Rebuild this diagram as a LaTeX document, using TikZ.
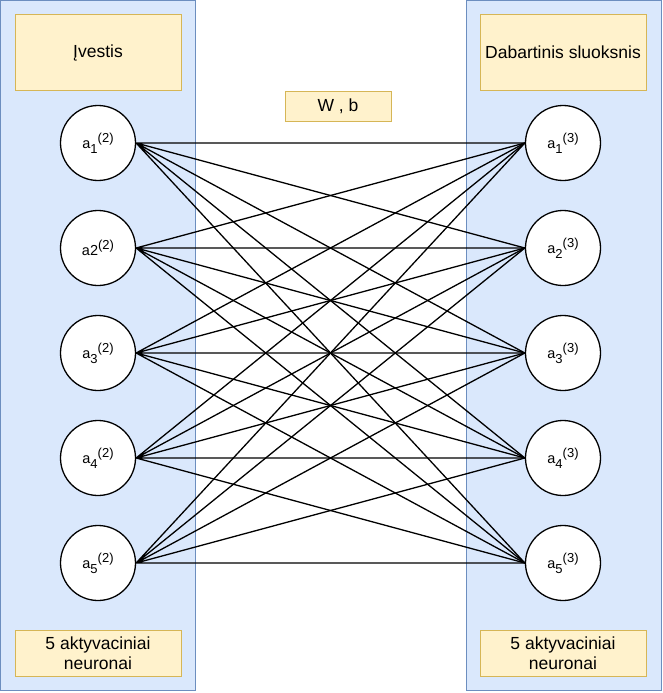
\documentclass[tikz,border=0pt]{standalone}
\usepackage{fontspec}
\setmainfont{Liberation Sans}
\definecolor{panelfill}{HTML}{DAE8FC}
\definecolor{panelline}{HTML}{6C8EBF}
\definecolor{notefill}{HTML}{FFF2CC}
\definecolor{noteline}{HTML}{D6B656}
\newcommand{\actsub}[1]{\raisebox{-4.5pt}{\fontsize{13}{14}\selectfont #1}}
\newcommand{\actsup}[1]{\raisebox{6.5pt}{\fontsize{13}{14}\selectfont (#1)}}
\tikzset{
  panel/.style={draw=panelline, fill=panelfill, line width=1pt},
  notebox/.style={draw=noteline, fill=notefill, line width=1pt, inner sep=0pt, align=center, font=\fontsize{17.5}{20}\selectfont},
  neuron/.style={draw, fill=white, circle, minimum size=75pt, inner sep=0pt, line width=1.3pt, font=\fontsize{14.5}{16}\selectfont},
  wire/.style={line width=1.3pt}
}
\begin{document}
\begin{tikzpicture}[x=1pt, y=-1pt]
			%%%%% START %%%%%
			\useasboundingbox (0, 0) rectangle (663, 693);
			
			\draw[panel] (0.5, 0.5) rectangle (195, 690);
			\draw[panel] (466, 0.5) rectangle (661, 690);
			
			\node[notebox, minimum width=166pt, minimum height=75pt] (inputnote) at (98, 52.5) {Įvestis};
			\node[notebox, minimum width=166pt, minimum height=75pt] (layernote) at (563, 52.5) {Dabartinis sluoksnis};
			\node[notebox, minimum width=106pt, minimum height=30pt] (weightnote) at (338, 106) {W , b};
			\node[notebox, minimum width=166pt, minimum height=46pt] (inputcount) at (98, 653) {5 aktyvaciniai\\neuronai};
			\node[notebox, minimum width=166pt, minimum height=46pt] (layercount) at (563, 653) {5 aktyvaciniai\\neuronai};
			
			\node[neuron] (in1) at (98, 143) {a\actsub{1}\actsup{2}};
			\node[neuron] (in2) at (98, 248) {a2\actsup{2}};
			\node[neuron] (in3) at (98, 353) {a\actsub{3}\actsup{2}};
			\node[neuron] (in4) at (98, 458) {a\actsub{4}\actsup{2}};
			\node[neuron] (in5) at (98, 563) {a\actsub{5}\actsup{2}};
			
			\node[neuron] (out1) at (563, 143) {a\actsub{1}\actsup{3}};
			\node[neuron] (out2) at (563, 248) {a\actsub{2}\actsup{3}};
			\node[neuron] (out3) at (563, 353) {a\actsub{3}\actsup{3}};
			\node[neuron] (out4) at (563, 458) {a\actsub{4}\actsup{3}};
			\node[neuron] (out5) at (563, 563) {a\actsub{5}\actsup{3}};
			
			\draw[wire] (in1.east) -- (out1.west) (in1.east) -- (out2.west) (in1.east) -- (out3.west) (in1.east) -- (out4.west) (in1.east) -- (out5.west);
			\draw[wire] (in2.east) -- (out1.west) (in2.east) -- (out2.west) (in2.east) -- (out3.west) (in2.east) -- (out4.west) (in2.east) -- (out5.west);
			\draw[wire] (in3.east) -- (out1.west) (in3.east) -- (out2.west) (in3.east) -- (out3.west) (in3.east) -- (out4.west) (in3.east) -- (out5.west);
			\draw[wire] (in4.east) -- (out1.west) (in4.east) -- (out2.west) (in4.east) -- (out3.west) (in4.east) -- (out4.west) (in4.east) -- (out5.west);
			\draw[wire] (in5.east) -- (out1.west) (in5.east) -- (out2.west) (in5.east) -- (out3.west) (in5.east) -- (out4.west) (in5.east) -- (out5.west);
			
			%%%%% END %%%%%
\end{tikzpicture}
\end{document}
